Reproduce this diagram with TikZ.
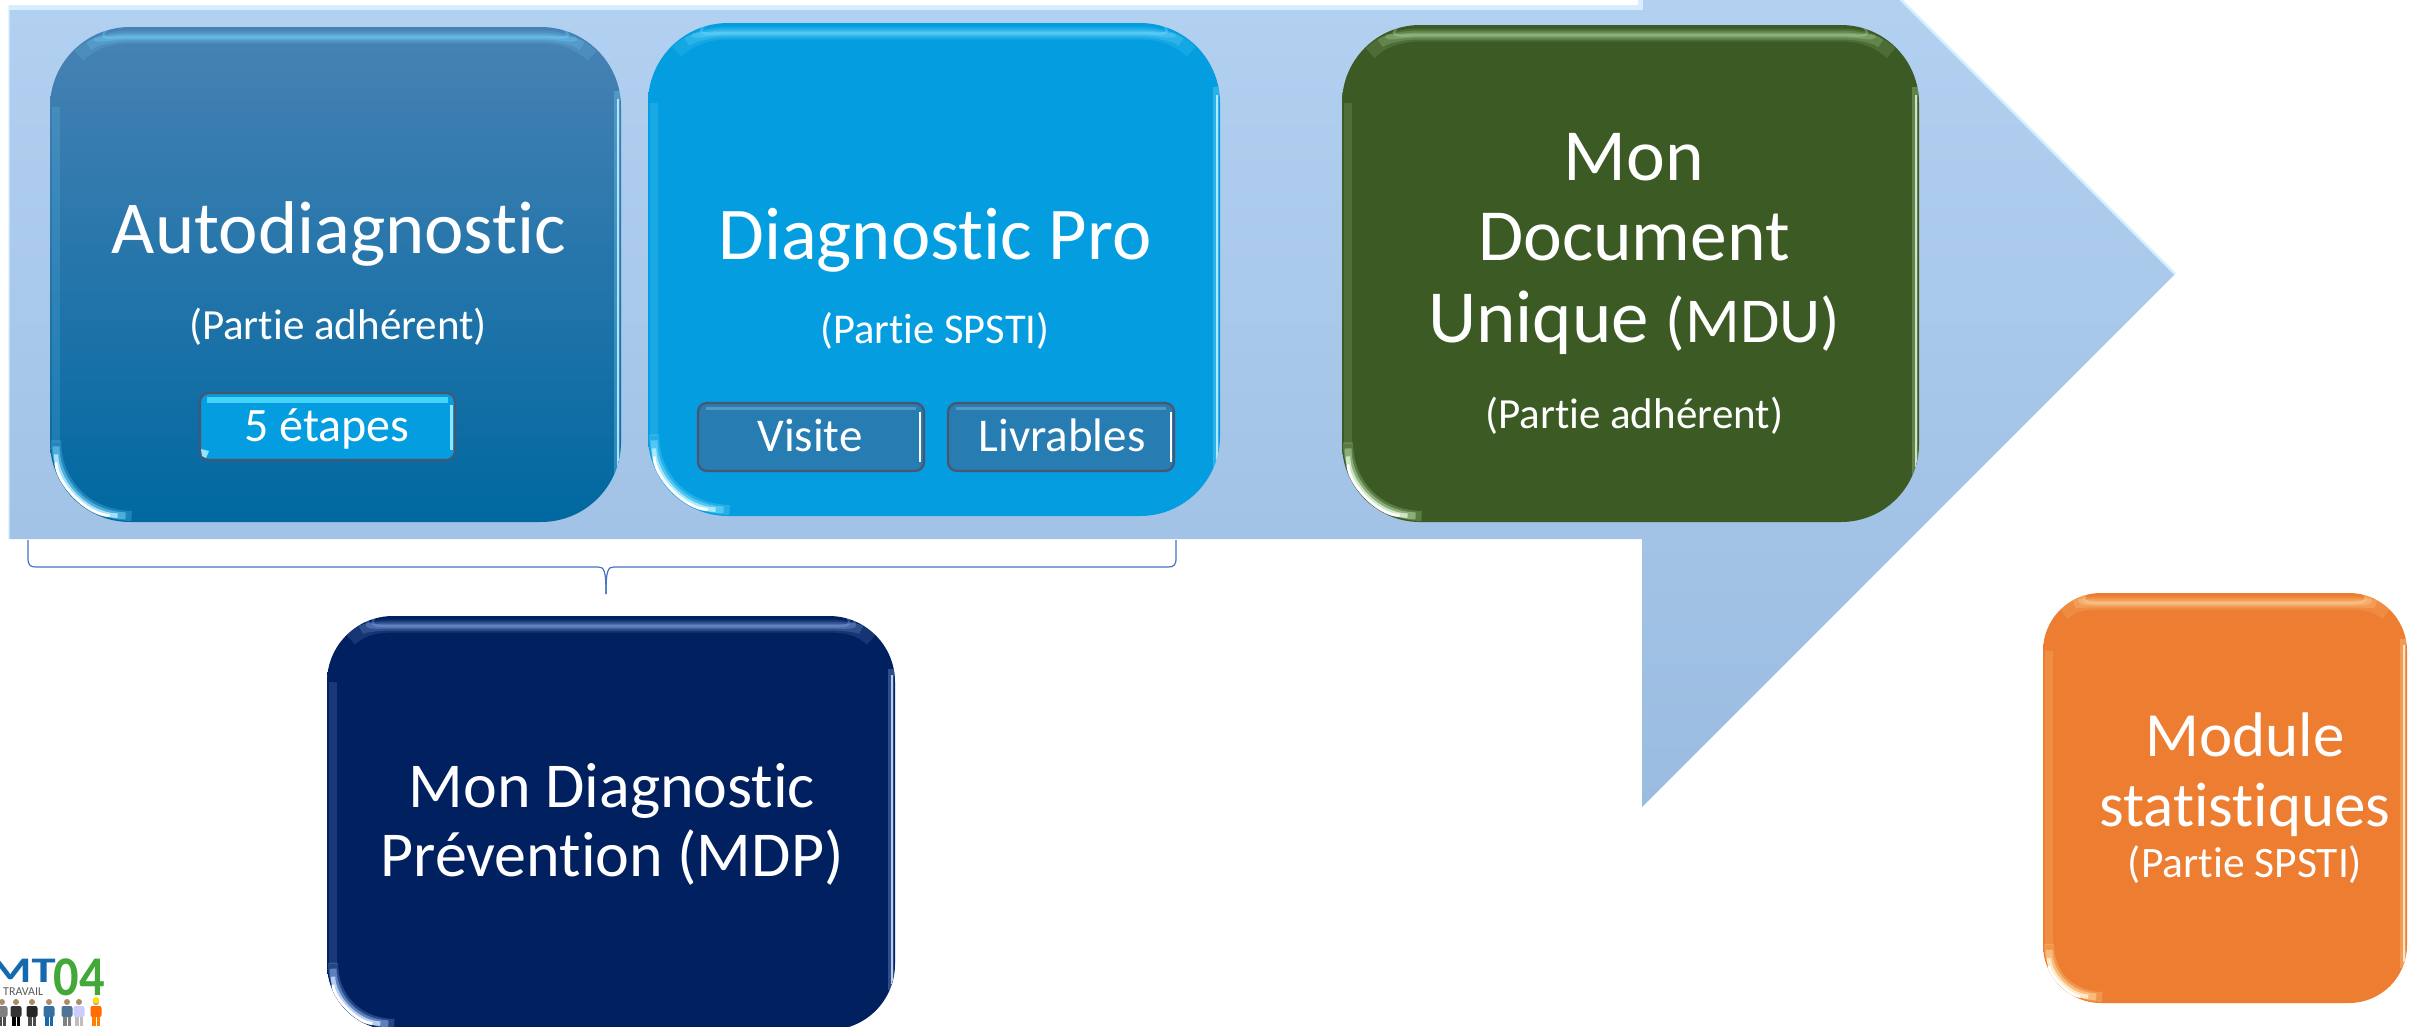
\documentclass[tikz,border=0pt]{standalone}
\usepackage{fontspec}
\setmainfont{Carlito}[Ligatures=CommonOff]
\usetikzlibrary{calc}
\definecolor{arrowtop}{RGB}{186,215,246}
\definecolor{arrowbot}{RGB}{154,188,224}
\definecolor{arrowrim}{RGB}{214,238,255}
\definecolor{autotop}{RGB}{72,130,180}
\definecolor{automid}{RGB}{0,112,172}
\definecolor{autobot}{RGB}{0,104,160}
\definecolor{diagblue}{RGB}{4,158,224}
\definecolor{btnblue}{RGB}{39,124,178}
\definecolor{btnedge}{RGB}{72,86,112}
\definecolor{btncyan}{RGB}{70,212,250}
\definecolor{mduGreen}{RGB}{60,90,35}
\definecolor{navybox}{RGB}{0,32,96}
\definecolor{orangebox}{RGB}{237,125,49}
\definecolor{bracecol}{RGB}{68,114,196}
\definecolor{logoblue}{RGB}{20,105,175}
\definecolor{logogreen}{RGB}{66,168,55}
\definecolor{logogrey}{RGB}{90,90,90}
\definecolor{hiAuto}{RGB}{120,215,255}
\definecolor{hiDiag}{RGB}{130,225,255}
\definecolor{hiGreen}{RGB}{185,225,170}
\definecolor{hiNavy}{RGB}{150,185,245}
\definecolor{hiOrange}{RGB}{255,225,170}
\newcommand{\fs}[1]{\fontsize{#1}{#1}\selectfont}
\tikzset{
  x=1pt,y=-1pt,
  txt/.style={anchor=base,inner sep=0pt,outer sep=0pt,text=white,font=\fs{#1}},
  boxshape/.style={rectangle,inner sep=0pt,outer sep=0pt,draw=none},
  person/.style={fill=#1,draw=none}
}
% \bevelbox{name}{x1}{y1}{x2}{y2}{radius}{top}{bottom}{highlight}
\newcommand{\bevelbox}[9]{%
  \node[boxshape,rounded corners=#6pt,minimum width={(#4-#2)*1pt},minimum height={(#5-#3)*1pt},
        top color=#7,bottom color=#8] (#1) at ({(#2+#4)/2},{(#3+#5)/2}) {};
  \begin{scope}
    \clip[rounded corners=#6pt] (#2,#3) rectangle (#4,#5);
    % top band: soft layers, each shorter than the one under it
    \foreach \wd/\op/\sh in {13/.14/0,9/.2/14,5/.28/26,2.5/.3/40}{
      \draw[#9,opacity=\op,line width=\wd pt,shorten <=\sh pt,shorten >=\sh pt]
        ({#2+.36*#6},{#3+.36*#6}) .. controls ({#2+.55*#6},{#3+.18*#6}) and ({#2+.78*#6},{#3+10}) .. ({#2+#6},{#3+10})
        -- ({#4-#6},{#3+10}) .. controls ({#4-.78*#6},{#3+10}) and ({#4-.55*#6},{#3+.18*#6}) .. ({#4-.36*#6},{#3+.36*#6});
    }
    % left edge, faint
    \draw[#9,opacity=.16,line width=8pt] ({#2+6},{#3+#6}) -- ({#2+6},{#5-#6});
    % right edge
    \draw[#9,opacity=.3,line width=6pt] ({#4-4},{#3+.8*#6}) -- ({#4-4},{#5-.6*#6});
    \draw[#9!40!white,opacity=.85,line width=2pt] ({#4-3},{#3+.9*#6}) -- ({#4-3},{#5-.7*#6});
    % bottom-left crescent
    \foreach \wd/\op/\sh/\col in {10/.25/0/#9,7/.5/6/#9,4.5/.9/14/#9!60!white,3/1/22/white}{
      \draw[\col,opacity=\op,line width=\wd pt,shorten <=\sh pt,shorten >=\sh pt]
        ({#2+6},{#5-1.02*#6}) .. controls ({#2+6},{#5-.5*#6}) and ({#2+.45*#6},{#5-7}) .. ({#2+1.02*#6},{#5-6});
    }
  \end{scope}
}
% small button
\newcommand{\btn}[6]{%
  \node[boxshape,rounded corners=9pt,minimum width={(#4-#2)*1pt},minimum height={(#5-#3)*1pt},
        fill=#6,draw=btnedge,line width=2.2pt] (#1) at ({(#2+#4)/2},{(#3+#5)/2}) {};
}
\begin{document}
\begin{tikzpicture}
\useasboundingbox (0,0) rectangle (2414,1026);
\clip (0,0) rectangle (2414,1026);
\fill[white] (0,0) rectangle (2414,1026);

% Big arrow
\coordinate (aTL) at (9,6);
\coordinate (aNT) at (1642,6);
\coordinate (aHT) at (1642,-259);
\coordinate (aTip) at (2175,274);
\coordinate (aHB) at (1642,807);
\coordinate (aNB) at (1642,539);
\coordinate (aBL) at (9,539);
\path[top color=arrowtop,bottom color=arrowbot]
  (aTL) -- (aNT) -- (aHT) -- (aTip) -- (aHB) -- (aNB) -- (aBL) -- cycle;
\draw[arrowrim,opacity=.6,line width=2.5pt] (aBL) -- (aTL);
\draw[arrowrim,line width=5pt] (9,7) -- (1640,7) -- (1640,0);
\draw[arrowrim,line width=2.5pt] (aHT) -- (aTip);

% Brace
\coordinate (bL) at (28,540);
\coordinate (bR) at (1176,540);
\coordinate (bM) at (606,594);
\draw[bracecol,line width=1.2pt]
  (bL) -- (28,558) .. controls (28,565) and (30,567) .. (36,567)
  -- (598,567) .. controls (604,567) and (606,570) .. (bM);
\draw[bracecol,line width=1.2pt]
  (bR) -- (1176,558) .. controls (1176,565) and (1174,567) .. (1168,567)
  -- (614,567) .. controls (608,567) and (606,570) .. (bM);

% Boxes
\bevelbox{auto}{50}{27}{621}{522}{80}{autotop}{autobot}{hiAuto}
\bevelbox{diag}{648}{23}{1220}{516}{80}{diagblue}{diagblue}{hiDiag}
\bevelbox{mdu}{1342}{25}{1919}{522}{78}{mduGreen}{mduGreen}{hiGreen}
\bevelbox{mdp}{327}{616}{895}{1030}{66}{navybox}{navybox}{hiNavy}
\bevelbox{stat}{2043}{593}{2407}{1003}{58}{orangebox}{orangebox}{hiOrange}

% Buttons
\btn{etapes}{200}{393}{455}{460}{diagblue}
\draw[btncyan,line width=6pt] (207,400) -- (448,400);
\draw[white!40!btncyan,line width=3pt] (451,405) -- (451,450);
\fill[white!40!btncyan] (201,449) -- (209,451) -- (206,458) -- (202,456) -- cycle;
\btn{visite}{698}{403}{924}{471}{btnblue}
\draw[white,line width=2.5pt] (920,412) -- (920,462);
\draw[white,opacity=.22,line width=3pt] (706,408) -- (916,408);
\btn{livr}{948}{403}{1174}{471}{btnblue}
\draw[white,line width=2.5pt] (1171,412) -- (1171,462);
\draw[white,opacity=.22,line width=3pt] (956,408) -- (1166,408);

% Texts
\node[txt=74.7] (t1) at (339,253) {Autodiagnostic};
\node[txt=43] (t2) at (338,339) {(Partie adhérent)};
\node[txt=48] (t3) at (327,441) {5 étapes};
\node[txt=74.5] (t4) at (935,259) {Diagnostic Pro};
\node[txt=42.5] (t5) at (935,343) {(Partie SPSTI)};
\node[txt=47] (t6) at (810,451) {Visite};
\node[txt=47] (t7) at (1062,451) {Livrables};
\node[txt=73.5] (t8) at (1634,180) {Mon};
\node[txt=73.5] (t9) at (1634,260) {Document};
\node[txt=75] (t10) at (1634,342) {Unique {\fs{64}(MDU)}};
\node[txt=43] (t11) at (1634,428) {(Partie adhérent)};
\node[txt=64] (t12) at (612,807) {Mon Diagnostic};
\node[txt=64] (t13) at (612,876) {Prévention (MDP)};
\node[txt=63] (t14) at (2245,756) {Module};
\node[txt=63] (t15) at (2245,826) {statistiques};
\node[txt=43.5] (t16) at (2245,877) {(Partie SPSTI)};

% Logo
\begin{scope}
  \clip (0,950) rectangle (110,1026);
  \node[anchor=base east,inner sep=0pt,text=logoblue,font=\fs{36}\bfseries,xscale=1.35] (logoMT) at (56,982) {MT};
  \node[anchor=base,inner sep=0pt,text=logogreen,font=\fs{56}\bfseries,xscale=.9] (logoNum) at (79,995) {04};
  \node[anchor=base west,inner sep=0pt,text=logogrey,font=\fs{12}] (logoTr) at (3,995) {TRAVAIL};
  \foreach \px/\pc/\ph in {2/gray/gray!60!black,16/black!80/black,32/black!85/black!70,49/logoblue!70!gray/logoblue,67/logoblue!45!gray/gray,79/white!80!blue/gray!50,96/orange!85!red/orange}{
    \fill[person=brown!70!black!70!white] (\px,1002) circle (3);
    \fill[person=\pc,rounded corners=2pt] ({\px-5.5},1006) rectangle ({\px+5.5},1017);
    \fill[person=\ph] ({\px-4},1017) rectangle ({\px-.5},1026);
    \fill[person=\ph] ({\px+.5},1017) rectangle ({\px+4},1026);
  }
  \fill[yellow!80!orange] (96,1000.5) circle (3.4);
\end{scope}
\end{tikzpicture}
\end{document}
